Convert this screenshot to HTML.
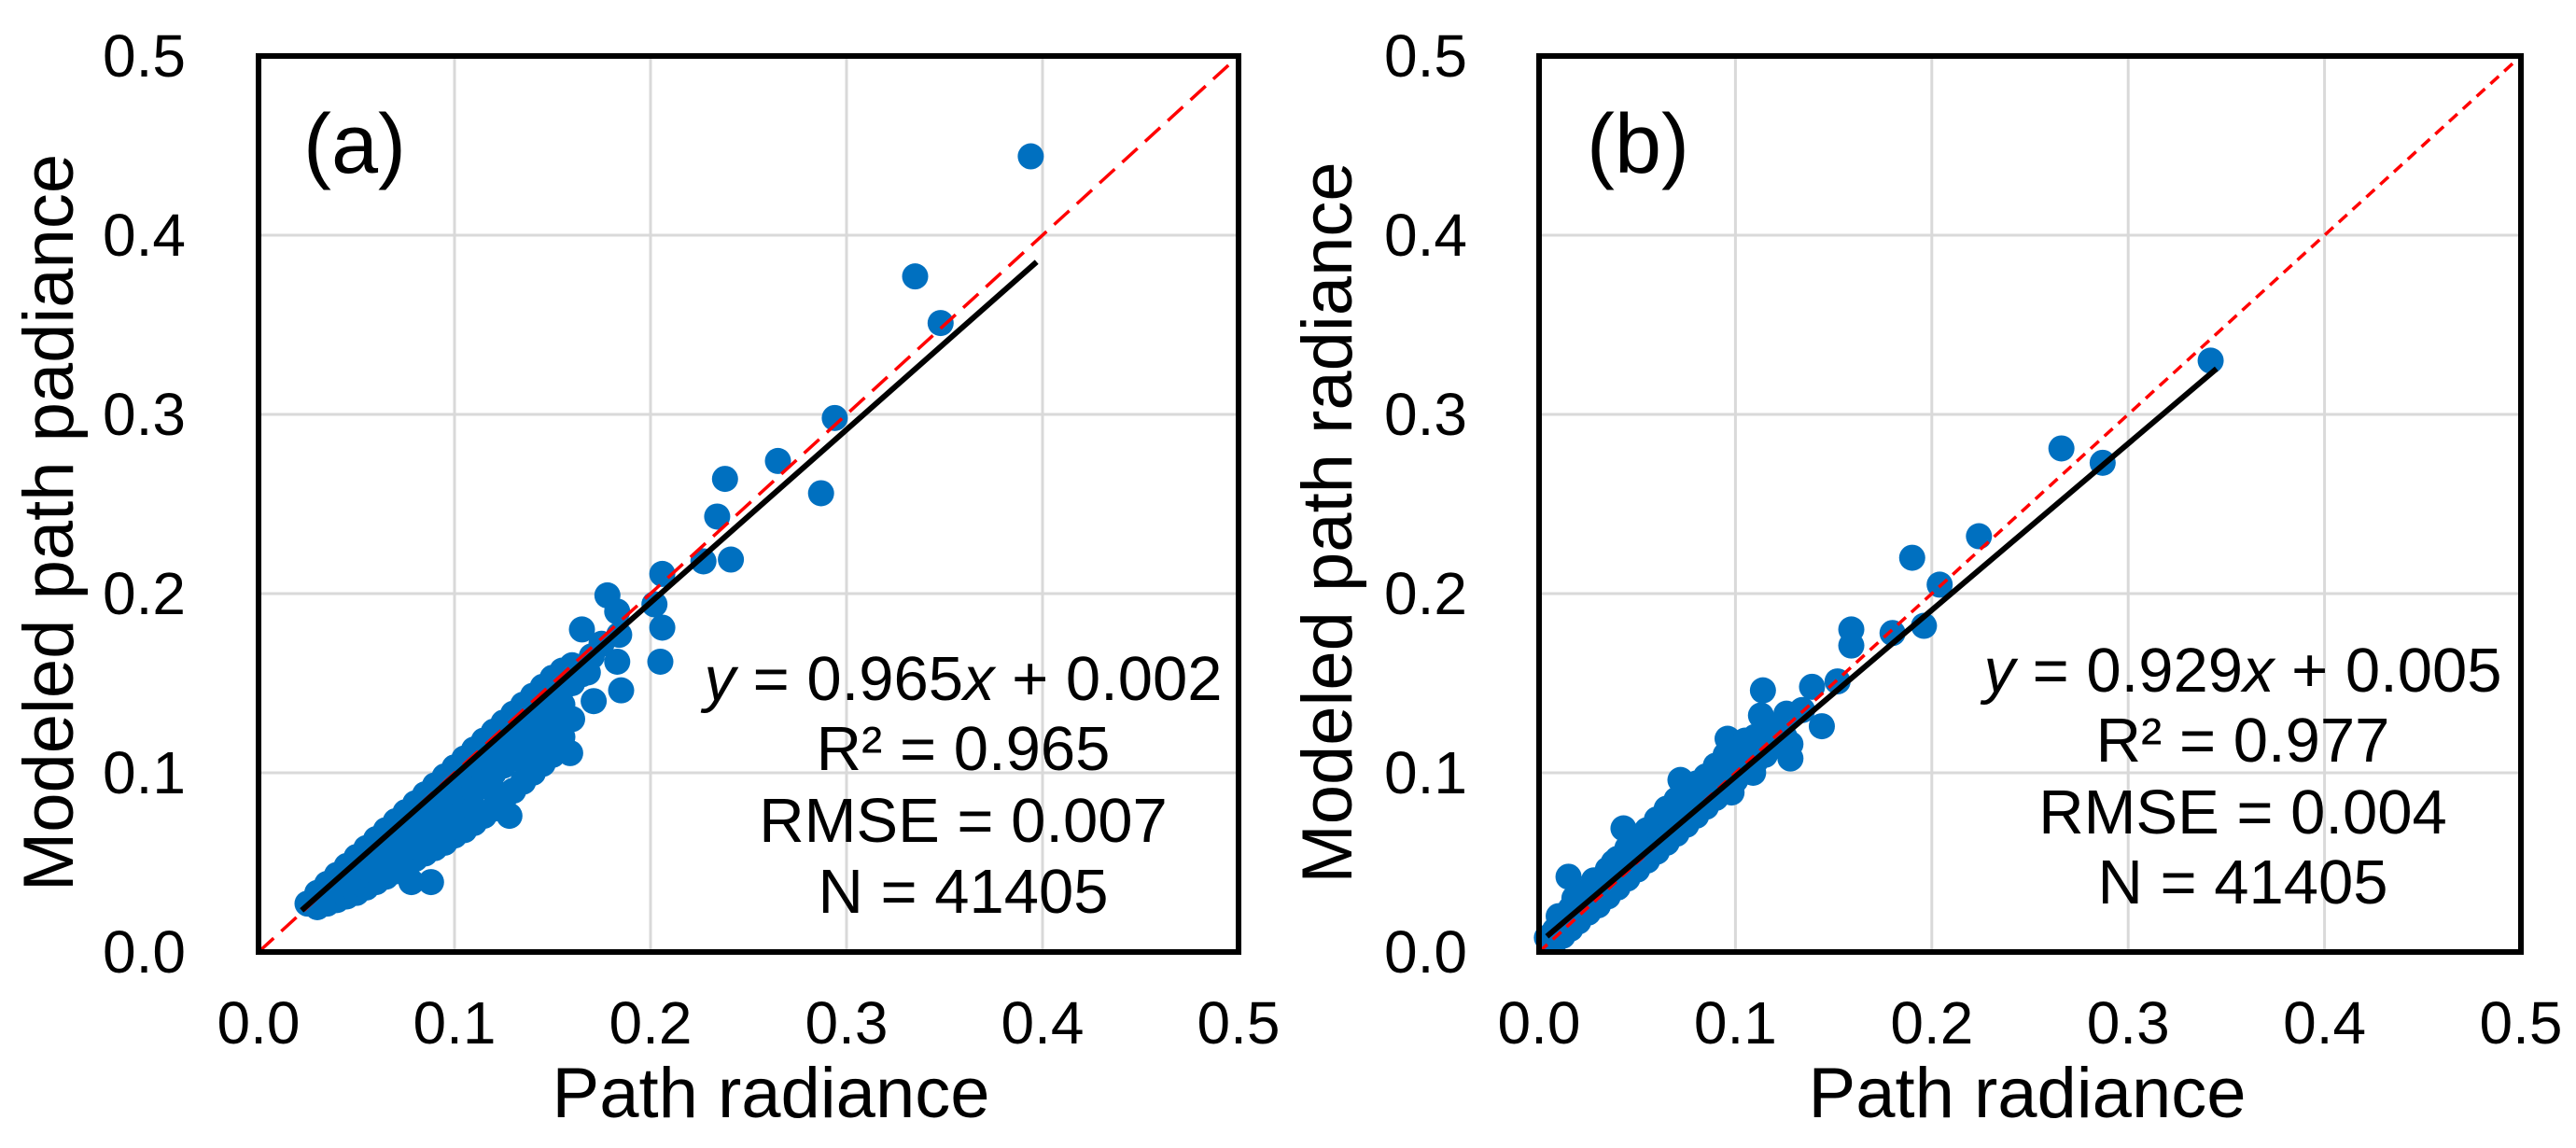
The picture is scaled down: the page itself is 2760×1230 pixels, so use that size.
<!DOCTYPE html>
<html><head><meta charset="utf-8"><style>
html,body{margin:0;padding:0;background:#fff;}
svg{display:block;font-family:"Liberation Sans",Arial,sans-serif;}
</style></head><body>
<svg id="fig" width="2760" height="1230" viewBox="0 0 2760 1230"></svg>
<script>
// ---- data ----
const tickValues = [0, 0.1, 0.2, 0.3, 0.4, 0.5];
const tickLabels = ["0.0", "0.1", "0.2", "0.3", "0.4", "0.5"];
const fitA = {slope: 0.965, intercept: 0.002, xmin: 0.022, xmax: 0.397};
const fitB = {slope: 0.929, intercept: 0.005, xmin: 0.004, xmax: 0.345};
const statsA = ["= 0.965", "RMSE = 0.007", "N = 41405"];
const statsB = ["= 0.977", "RMSE = 0.004", "N = 41405"];
const pointsA = [
[0.394,0.444],[0.335,0.377],[0.348,0.351],[0.294,0.298],[0.265,0.274],[0.238,0.264],[0.287,0.256],
[0.234,0.243],[0.241,0.219],[0.227,0.218],[0.206,0.211],[0.202,0.194],[0.206,0.181],[0.205,0.162],
[0.178,0.199],[0.183,0.190],[0.165,0.180],[0.184,0.177],[0.183,0.162],[0.185,0.146],[0.171,0.140],
[0.168,0.156],[0.159,0.111],[0.128,0.076],[0.088,0.039],[0.078,0.039],[0.144,0.118],[0.108,0.075],
[0.025,0.027],[0.030,0.033],[0.035,0.038],[0.040,0.043],[0.045,0.048],[0.050,0.053],[0.055,0.058],
[0.060,0.063],[0.065,0.068],[0.070,0.073],[0.075,0.078],[0.080,0.083],[0.085,0.088],[0.090,0.093],
[0.095,0.098],[0.100,0.103],[0.105,0.108],[0.110,0.113],[0.115,0.118],[0.120,0.123],[0.125,0.128],
[0.130,0.133],[0.135,0.138],[0.140,0.143],[0.145,0.148],[0.150,0.153],[0.155,0.157],[0.160,0.160],
[0.030,0.025],[0.035,0.027],[0.040,0.029],[0.045,0.031],[0.050,0.033],[0.055,0.036],[0.060,0.039],
[0.065,0.042],[0.070,0.045],[0.075,0.048],[0.080,0.052],[0.085,0.055],[0.090,0.058],[0.095,0.061],
[0.100,0.065],[0.105,0.068],[0.110,0.072],[0.115,0.076],[0.120,0.080],[0.125,0.085],[0.130,0.090],
[0.135,0.095],[0.140,0.100],[0.145,0.105],[0.150,0.110],[0.155,0.120],[0.160,0.130],
[0.045,0.038],[0.050,0.042],[0.055,0.047],[0.060,0.052],[0.065,0.057],[0.070,0.062],[0.075,0.067],
[0.080,0.072],[0.085,0.077],[0.090,0.082],[0.095,0.087],[0.100,0.092],[0.105,0.097],[0.110,0.102],
[0.115,0.107],[0.120,0.112],[0.125,0.117],[0.130,0.122],[0.135,0.127],[0.140,0.132],[0.145,0.137],
[0.150,0.142],[0.155,0.147],[0.160,0.150],[0.165,0.155],[0.170,0.165],[0.175,0.172],
[0.075,0.058],[0.080,0.062],[0.085,0.066],[0.090,0.070],[0.095,0.075],[0.100,0.080],[0.105,0.085],
[0.110,0.090],[0.115,0.095],[0.120,0.100],[0.125,0.104],[0.130,0.108],[0.135,0.112],[0.140,0.118],
[0.145,0.125],[0.150,0.130],[0.155,0.138],[0.060,0.045],[0.070,0.052],[0.110,0.080],[0.120,0.090]
];
const pointsB = [
[0.342,0.330],[0.266,0.281],[0.287,0.273],[0.224,0.232],[0.190,0.220],[0.204,0.205],[0.196,0.182],
[0.180,0.178],[0.159,0.180],[0.159,0.171],[0.152,0.151],[0.139,0.148],[0.144,0.126],[0.114,0.146],
[0.113,0.132],[0.128,0.108],[0.128,0.116],[0.126,0.133],[0.134,0.135],[0.096,0.119],[0.109,0.100],
[0.098,0.089],[0.072,0.096],[0.043,0.069],[0.015,0.042],
[0.004,0.008],[0.008,0.012],[0.012,0.018],[0.016,0.024],[0.020,0.028],[0.025,0.034],[0.030,0.040],
[0.035,0.046],[0.040,0.052],[0.045,0.058],[0.050,0.062],[0.055,0.068],[0.060,0.074],[0.065,0.080],
[0.070,0.085],[0.075,0.090],[0.080,0.094],[0.085,0.098],[0.090,0.104],[0.095,0.110],[0.100,0.114],
[0.105,0.118],[0.110,0.120],[0.115,0.122],[0.120,0.125],
[0.008,0.006],[0.012,0.009],[0.016,0.013],[0.020,0.017],[0.025,0.022],[0.030,0.026],[0.035,0.031],
[0.040,0.036],[0.045,0.041],[0.050,0.046],[0.055,0.051],[0.060,0.056],[0.065,0.061],[0.070,0.066],
[0.075,0.071],[0.080,0.076],[0.085,0.081],[0.090,0.086],[0.095,0.091],[0.100,0.096],[0.105,0.101],
[0.110,0.106],[0.115,0.110],[0.120,0.115],[0.125,0.120],
[0.010,0.020],[0.018,0.030],[0.028,0.040],[0.038,0.050],[0.048,0.055],[0.058,0.066],[0.068,0.078],
[0.078,0.088],[0.088,0.095],[0.010,0.014],[0.022,0.022],[0.032,0.034],[0.042,0.044],[0.052,0.054],
[0.062,0.064],[0.072,0.074],[0.082,0.084],[0.092,0.094],[0.102,0.104]
];

// ---- drawing ----
const NS = "http://www.w3.org/2000/svg";
const svg = document.getElementById("fig");
function mk(tag, attrs, parent) {
  const e = document.createElementNS(NS, tag);
  for (const k in attrs) e.setAttribute(k, attrs[k]);
  (parent || svg).appendChild(e);
  return e;
}

function panel(p) {
  const g = mk("g", {});
  
  
  const sx = v => p.left + (v / 0.5) * (p.right - p.left);
  const sy = v => p.bottom - (v / 0.5) * (p.bottom - p.top);
  tickValues.forEach((v, i) => {
    if (i > 0 && i < tickValues.length - 1) {
      const gx = mk("line", {x1: sx(v), x2: sx(v), y1: p.top, y2: p.bottom, stroke: "#d9d9d9", "stroke-width": 3}, g);
      
      
      const gy = mk("line", {x1: p.left, x2: p.right, y1: sy(v), y2: sy(v), stroke: "#d9d9d9", "stroke-width": 3}, g);
      
      
    }
    const tx = mk("text", {x: sx(v), y: 1118, "font-size": 64, "text-anchor": "middle", fill: "#000"}, g);
    tx.textContent = tickLabels[i];
    
    
    const ty = mk("text", {x: p.tickRight, y: sy(v) + 22, "font-size": 64, "text-anchor": "end", fill: "#000"}, g);
    ty.textContent = tickLabels[i];
    
    
  });
  const pg = mk("g", {fill: "#0070C0"}, g);
  
  
  p.points.forEach(pt => {
    const c = mk("circle", {cx: sx(pt[0]), cy: sy(pt[1]), r: 14}, pg);
    
    
  });
  const one = mk("line", {x1: sx(0), y1: sy(0), x2: sx(0.5), y2: sy(0.5), stroke: "#ff0000", "stroke-width": 3.5, "stroke-dasharray": p.dash}, g);
  
  
  const f = p.fit;
  const fl = mk("line", {x1: sx(f.xmin), y1: sy(f.slope * f.xmin + f.intercept), x2: sx(f.xmax), y2: sy(f.slope * f.xmax + f.intercept), stroke: "#000", "stroke-width": 6}, g);
  
  
  const fr = mk("rect", {x: p.left, y: p.top, width: p.right - p.left, height: p.bottom - p.top, fill: "none", stroke: "#000", "stroke-width": 6}, g);
  
  
  const lb = mk("text", {x: p.labelX, y: 185, "font-size": 90, fill: "#000"}, g);
  lb.textContent = p.label;
  
  
  const xt = mk("text", {x: p.xTitleX, y: 1197, "font-size": 76, "text-anchor": "middle", fill: "#000"}, g);
  xt.textContent = "Path radiance";
  
  
  const yt = mk("text", {x: 0, y: 0, "font-size": 76, "text-anchor": "middle", fill: "#000", transform: "translate(" + p.yTitleX + ",560) rotate(-90)"}, g);
  yt.textContent = p.yTitle;
  
  
  const eq = mk("text", {x: p.statX, y: p.statY[0], "font-size": 67, "text-anchor": "middle", fill: "#000"}, g);
  eq.innerHTML = '<tspan font-style="italic">y</tspan> = ' + f.slope.toFixed(3) + '<tspan font-style="italic">x</tspan> + ' + f.intercept.toFixed(3);
  
  
  const r2 = mk("text", {x: p.statX, y: p.statY[1], "font-size": 67, "text-anchor": "middle", fill: "#000"}, g);
  r2.textContent = "R\u00b2 " + p.stats[0];
  
  
  const rm = mk("text", {x: p.statX, y: p.statY[2], "font-size": 67, "text-anchor": "middle", fill: "#000"}, g);
  rm.textContent = p.stats[1];
  
  
  const nn = mk("text", {x: p.statX, y: p.statY[3], "font-size": 67, "text-anchor": "middle", fill: "#000"}, g);
  nn.textContent = p.stats[2];
  
  
}

panel({id: "a", left: 277, right: 1327, top: 60, bottom: 1020, tickRight: 199, points: pointsA, fit: fitA,
  dash: "22 11", label: "(a)", labelX: 325, xTitleX: 826, yTitleX: 78, yTitle: "Modeled path padiance",
  statX: 1032, statY: [750, 825, 902, 978], stats: statsA});
panel({id: "b", left: 1649, right: 2701, top: 60, bottom: 1020, tickRight: 1572, points: pointsB, fit: fitB,
  dash: "12 8", label: "(b)", labelX: 1700, xTitleX: 2172, yTitleX: 1448, yTitle: "Modeled path radiance",
  statX: 2403, statY: [741, 816, 893, 968], stats: statsB});
</script>
</body></html>
